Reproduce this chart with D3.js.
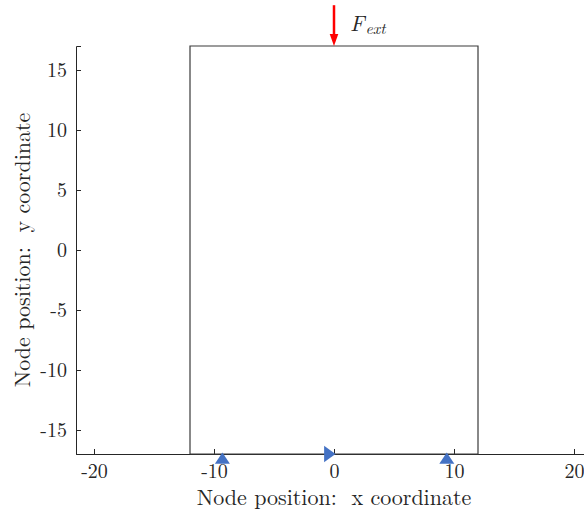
<!DOCTYPE html>
<html>
<head>
<meta charset="utf-8">
<script src="https://cdn.jsdelivr.net/npm/d3@7"></script>
<style>
  html, body { margin: 0; padding: 0; background: #fff; }
  svg { display: block; }
  text { font-family: "Latin Modern Roman", "Liberation Serif", serif; fill: #262626; }
</style>
</head>
<body>
<svg id="chart" width="584" height="514"></svg>
<script>
// ---- data ----
const outlineX = [-12, 12, 12, -12, -12];
const outlineY = [-17, -17, 17, 17, -17];
const supportUpX = [-9.3, 9.4];
const supportUpY = [-17.35, -17.35];
const supportRightX = [-0.35];
const supportRightY = [-17];
const forceX = [0];
const forceFromY = [20.4];
const forceToY = [17];
const forceLabel = "F";
const forceSub = "ext";
const xTicks = [-20, -10, 0, 10, 20];
const yTicks = [-15, -10, -5, 0, 5, 10, 15];
const xDomain = [-21.5, 21.5];
const yDomain = [-17, 17];
const xLabel = "Node position:  x coordinate";
const yLabel = "Node position:  y coordinate";

// ---- layout ----
const svg = d3.select("#chart");
const x = d3.scaleLinear().domain(xDomain).range([76, 592]);
const y = d3.scaleLinear().domain(yDomain).range([454, 46]);
const axisColor = "#262626";
const blue = "#4472C4";
const FONT = '"Latin Modern Roman", "Liberation Serif", serif';

// axes
const gx = svg.append("g").attr("transform", `translate(0,${y(yDomain[0])})`)
  .call(d3.axisBottom(x).tickValues(xTicks).tickSize(-5).tickPadding(10).tickFormat(d3.format("d")));
const gy = svg.append("g").attr("transform", `translate(${x(xDomain[0])},0)`)
  .call(d3.axisLeft(y).tickValues(yTicks).tickSize(-5).tickPadding(9).tickFormat(d3.format("d")));
[gx, gy].forEach(g => {
  g.attr("font-family", null);
  g.select(".domain").attr("stroke", axisColor).attr("stroke-width", 1);
  g.selectAll(".tick line").attr("stroke", axisColor).attr("stroke-width", 1);
  g.selectAll(".tick text").attr("fill", axisColor)
    .style("font-family", FONT).style("font-size", "20px")
    .text(d => d < 0 ? "-" + Math.abs(d) : String(d));
});
gx.selectAll(".tick text").attr("dy", null).attr("y", 24);
gy.selectAll(".tick text").attr("dy", "0.34em");

// outline rectangle
const line = d3.line().x(d => x(d[0])).y(d => y(d[1]));
svg.append("path")
  .datum(outlineX.map((v, i) => [v, outlineY[i]]))
  .attr("d", line)
  .attr("fill", "none")
  .attr("stroke", "#3a3a3a")
  .attr("stroke-width", 1.2);

// supports: up triangles
svg.selectAll(".sup-up").data(supportUpX.map((v, i) => [v, supportUpY[i]]))
  .enter().append("path")
  .attr("class", "sup-up")
  .attr("transform", d => `translate(${x(d[0])},${y(d[1])})`)
  .attr("d", "M0,-5.6L7.5,5.6L-7.5,5.6Z")
  .attr("fill", blue);

// supports: right triangles
svg.selectAll(".sup-right").data(supportRightX.map((v, i) => [v, supportRightY[i]]))
  .enter().append("path")
  .attr("class", "sup-right")
  .attr("transform", d => `translate(${x(d[0])},${y(d[1])})`)
  .attr("d", "M5.7,0L-5.7,-8.3L-5.7,8.3Z")
  .attr("fill", blue);

// external force arrow
forceX.forEach((fx, i) => {
  const px = x(fx), y0 = y(forceFromY[i]), y1 = y(forceToY[i]);
  svg.append("line")
    .attr("x1", px).attr("x2", px)
    .attr("y1", y0).attr("y2", y1 - 9)
    .attr("stroke", "#ff0000").attr("stroke-width", 2.5);
  svg.append("path")
    .attr("d", `M${px - 4.3},${y1 - 12}L${px + 4.3},${y1 - 12}L${px},${y1}Z`)
    .attr("fill", "#ff0000");
  const t = svg.append("text")
    .attr("x", px + 16).attr("y", y0 + 26)
    .style("font-style", "italic").style("font-size", "22px").attr("fill", "#000");
  t.append("tspan").text(forceLabel);
  t.append("tspan").attr("dx", 1).attr("dy", 3).style("font-size", "16px").text(forceSub);
});

// axis labels
svg.append("text")
  .attr("x", x(0)).attr("y", 505)
  .attr("text-anchor", "middle")
  .style("font-size", "22px")
  .style("white-space", "pre")
  .text(xLabel);
svg.append("text")
  .attr("transform", `translate(30,${y(0)}) rotate(-90)`)
  .attr("text-anchor", "middle")
  .style("font-size", "22px")
  .style("white-space", "pre")
  .text(yLabel);
</script>
</body>
</html>
